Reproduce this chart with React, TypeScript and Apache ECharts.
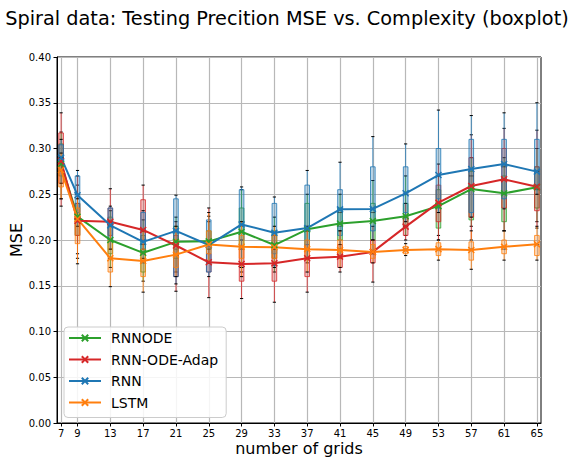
import React, { useEffect, useRef } from "react";
import * as echarts from "echarts";

const grids = [7, 9, 13, 17, 21, 25, 29, 33, 37, 41, 45, 49, 53, 57, 61, 65];
const yTicks = [0, 0.05, 0.1, 0.15, 0.2, 0.25, 0.3, 0.35, 0.4];

const seriesNames = ["RNNODE", "RNN-ODE-Adap", "RNN", "LSTM"];
const seriesColors = ["#2ca02c", "#d62728", "#1f77b4", "#ff7f0e"];

// line (mean) values
const rnnodeLine = [0.283, 0.2255, 0.2, 0.186, 0.198, 0.1985, 0.209, 0.1945, 0.2117, 0.218, 0.2208, 0.226, 0.237, 0.2557, 0.251, 0.2576];
const adapLine = [0.286, 0.221, 0.22, 0.211, 0.194, 0.1756, 0.1738, 0.1745, 0.18, 0.1818, 0.187, 0.2146, 0.2408, 0.259, 0.2663, 0.2583];
const rnnLine = [0.29, 0.249, 0.216, 0.198, 0.21, 0.1945, 0.217, 0.208, 0.213, 0.2335, 0.234, 0.251, 0.271, 0.2776, 0.283, 0.2747];
const lstmLine = [0.2765, 0.223, 0.18, 0.177, 0.184, 0.195, 0.1927, 0.192, 0.19, 0.189, 0.187, 0.189, 0.19, 0.189, 0.1927, 0.1953];

// box stats: [low whisker, q1, median, q3, high whisker]
const rnnodeBox = [
  [0.245, 0.27, 0.285, 0.305, 0.318], [0.185, 0.205, 0.225, 0.24, 0.26], [0.17, 0.185, 0.2, 0.225, 0.232],
  [0.155, 0.165, 0.185, 0.205, 0.222], [0.165, 0.18, 0.198, 0.215, 0.225], [0.175, 0.19, 0.2, 0.21, 0.22],
  [0.165, 0.19, 0.21, 0.235, 0.255], [0.165, 0.18, 0.195, 0.21, 0.225], [0.175, 0.19, 0.21, 0.24, 0.25],
  [0.18, 0.2, 0.215, 0.235, 0.25], [0.185, 0.2, 0.22, 0.24, 0.265], [0.205, 0.215, 0.225, 0.24, 0.27],
  [0.205, 0.213, 0.235, 0.255, 0.27], [0.215, 0.222, 0.255, 0.275, 0.29], [0.21, 0.22, 0.25, 0.27, 0.29],
  [0.22, 0.235, 0.26, 0.28, 0.3],
];
const adapBox = [
  [0.237, 0.262, 0.29, 0.317, 0.339], [0.18, 0.205, 0.22, 0.24, 0.27], [0.19, 0.205, 0.22, 0.235, 0.256],
  [0.19, 0.2, 0.21, 0.244, 0.26], [0.144, 0.16, 0.19, 0.205, 0.22], [0.137, 0.165, 0.175, 0.185, 0.235],
  [0.136, 0.155, 0.17, 0.19, 0.2], [0.132, 0.155, 0.172, 0.19, 0.205], [0.143, 0.16, 0.18, 0.195, 0.21],
  [0.165, 0.17, 0.18, 0.195, 0.21], [0.154, 0.175, 0.185, 0.2, 0.215], [0.2, 0.205, 0.215, 0.225, 0.24],
  [0.2, 0.22, 0.24, 0.26, 0.283], [0.2, 0.225, 0.26, 0.29, 0.315], [0.21, 0.235, 0.265, 0.3, 0.322],
  [0.213, 0.232, 0.255, 0.28, 0.32],
];
const rnnBox = [
  [0.262, 0.283, 0.29, 0.304, 0.31], [0.215, 0.23, 0.25, 0.27, 0.276], [0.19, 0.2, 0.215, 0.235, 0.237],
  [0.18, 0.185, 0.195, 0.23, 0.232], [0.152, 0.16, 0.2, 0.245, 0.249], [0.16, 0.165, 0.19, 0.222, 0.226],
  [0.17, 0.2, 0.215, 0.255, 0.258], [0.17, 0.185, 0.205, 0.24, 0.247], [0.18, 0.195, 0.21, 0.26, 0.276],
  [0.195, 0.205, 0.23, 0.255, 0.285], [0.2, 0.21, 0.23, 0.28, 0.313], [0.22, 0.23, 0.25, 0.28, 0.305],
  [0.23, 0.245, 0.27, 0.3, 0.342], [0.225, 0.23, 0.27, 0.31, 0.336], [0.234, 0.245, 0.28, 0.31, 0.339],
  [0.25, 0.26, 0.275, 0.31, 0.35],
];
const lstmBox = [
  [0.245, 0.258, 0.275, 0.285, 0.295], [0.174, 0.196, 0.222, 0.235, 0.245], [0.149, 0.165, 0.18, 0.2, 0.215],
  [0.143, 0.16, 0.175, 0.19, 0.21], [0.16, 0.17, 0.183, 0.2, 0.215], [0.175, 0.185, 0.195, 0.21, 0.23],
  [0.16, 0.18, 0.193, 0.205, 0.22], [0.175, 0.18, 0.19, 0.205, 0.215], [0.165, 0.18, 0.19, 0.2, 0.215],
  [0.17, 0.18, 0.19, 0.2, 0.21], [0.175, 0.18, 0.187, 0.195, 0.2], [0.183, 0.185, 0.19, 0.193, 0.196],
  [0.178, 0.183, 0.19, 0.197, 0.2], [0.168, 0.178, 0.19, 0.198, 0.21], [0.178, 0.185, 0.19, 0.2, 0.21],
  [0.178, 0.183, 0.195, 0.205, 0.215],
];

const lines = [rnnodeLine, adapLine, rnnLine, lstmLine];
const boxes = [rnnodeBox, adapBox, rnnBox, lstmBox];

const FONT = "DejaVu Sans";

function hexToRgba(hex: string, a: number) {
  const n = parseInt(hex.slice(1), 16);
  return `rgba(${(n >> 16) & 255},${(n >> 8) & 255},${n & 255},${a})`;
}

function makeBoxSeries(idx: number) {
  const color = seriesColors[idx];
  const data = grids.map((g, i) => [g, ...boxes[idx][i]]);
  return {
    type: "custom",
    name: seriesNames[idx] + "-box",
    data,
    z: 2,
    silent: true,
    encode: { x: 0, y: [1, 2, 3, 4, 5] },
    renderItem: (params: any, api: any) => {
      const x = api.value(0);
      const pLow = api.coord([x, api.value(1)]);
      const pQ1 = api.coord([x, api.value(2)]);
      const pMed = api.coord([x, api.value(3)]);
      const pQ3 = api.coord([x, api.value(4)]);
      const pHigh = api.coord([x, api.value(5)]);
      const cx = pLow[0];
      const hw = 2.3;
      const cw = 1.6;
      return {
        type: "group",
        children: [
          { type: "line", shape: { x1: cx, y1: pLow[1], x2: cx, y2: pQ1[1] }, style: { stroke: color, lineWidth: 1, opacity: 0.8 } },
          { type: "line", shape: { x1: cx, y1: pQ3[1], x2: cx, y2: pHigh[1] }, style: { stroke: color, lineWidth: 1, opacity: 0.8 } },
          {
            type: "rect",
            shape: { x: cx - hw, y: pQ3[1], width: hw * 2, height: pQ1[1] - pQ3[1] },
            style: { fill: hexToRgba(color, 0.3), stroke: hexToRgba(color, 0.8), lineWidth: 1 },
          },
          { type: "line", shape: { x1: cx - hw, y1: pMed[1], x2: cx + hw, y2: pMed[1] }, style: { stroke: "rgba(0,0,0,0.5)", lineWidth: 1 } },
          { type: "line", shape: { x1: cx - cw, y1: pLow[1], x2: cx + cw, y2: pLow[1] }, style: { stroke: "#000", lineWidth: 1 } },
          { type: "line", shape: { x1: cx - cw, y1: pHigh[1], x2: cx + cw, y2: pHigh[1] }, style: { stroke: "#000", lineWidth: 1 } },
        ],
      };
    },
  };
}

function makeLineSeries(idx: number) {
  const color = seriesColors[idx];
  return {
    type: "line",
    name: seriesNames[idx],
    data: grids.map((g, i) => [g, lines[idx][i]]),
    z: 5,
    symbol: "path://M0,0L10,10M10,0L0,10",
    symbolSize: 6,
    showAllSymbol: true,
    lineStyle: { color, width: 2 },
    itemStyle: { color, borderColor: color, borderWidth: 1.5 },
  };
}

export default function App() {
  const ref = useRef<HTMLDivElement>(null);
  useEffect(() => {
    document.body.style.margin = "0";
    if (!ref.current) return;
    const chart = echarts.init(ref.current, null, { renderer: "svg" });
    const boxSeries = [0, 1, 2, 3].map(makeBoxSeries);
    const lineSeries = [0, 1, 2, 3].map(makeLineSeries);
    chart.setOption({
      animation: false,
      backgroundColor: "#fff",
      textStyle: { fontFamily: FONT },
      title: {
        text: "Spiral data: Testing Precition MSE vs. Complexity (boxplot)",
        left: "center",
        top: 4,
        textStyle: { fontFamily: FONT, fontSize: 19.3, fontWeight: "normal", color: "#000" },
      },
      grid: {
        left: 57,
        right: 33,
        top: 57,
        bottom: 35,
        show: true,
        borderColor: "#000",
        borderWidth: 1,
        backgroundColor: "transparent",
        outerBoundsMode: "none",
        containLabel: false,
      },
      legend: {
        data: seriesNames,
        orient: "vertical",
        left: 64,
        top: 327,
        itemWidth: 32,
        itemHeight: 8,
        itemGap: 5.5,
        padding: [3, 8, 7, 4],
        backgroundColor: "rgba(255,255,255,0.85)",
        borderColor: "#ccc",
        borderWidth: 1,
        borderRadius: 4,
        textStyle: { fontFamily: FONT, fontSize: 14, lineHeight: 16, color: "#000", padding: [0, 0, 0, 5] },
      },
      xAxis: {
        type: "value",
        min: 6.5,
        max: 65.5,
        name: "number of grids",
        nameLocation: "middle",
        nameGap: 17,
        nameMoveOverlap: false,
        nameTextStyle: { fontFamily: FONT, fontSize: 16, color: "#000" },
        axisLine: { show: true, onZero: false, lineStyle: { color: "#000", width: 1 } },
        axisTick: { show: true, length: 3.5, customValues: grids, lineStyle: { color: "#000" } },
        axisLabel: { customValues: grids, fontFamily: FONT, fontSize: 10, color: "#000", margin: 5 },
        splitLine: { show: true, lineStyle: { color: "#b8b8b8", width: 1.2 } },
      },
      yAxis: {
        type: "value",
        min: 0,
        max: 0.4,
        interval: 0.05,
        name: "MSE",
        nameLocation: "middle",
        nameGap: 33,
        nameMoveOverlap: false,
        nameTextStyle: { fontFamily: FONT, fontSize: 16, color: "#000" },
        axisLine: { show: true, lineStyle: { color: "#000", width: 1 } },
        axisTick: { show: true, length: 3.5, lineStyle: { color: "#000" } },
        axisLabel: {
          fontFamily: FONT,
          fontSize: 10,
          color: "#000",
          margin: 6,
          formatter: (v: number) => (yTicks.some((t) => Math.abs(t - v) < 1e-9) ? v.toFixed(2) : ""),
        },
        splitLine: { show: true, lineStyle: { color: "#b8b8b8", width: 1.2 } },
      },
      series: [...boxSeries, ...lineSeries],
    });
    return () => chart.dispose();
  }, []);
  return <div ref={ref} style={{ width: 574, height: 458 }} />;
}
